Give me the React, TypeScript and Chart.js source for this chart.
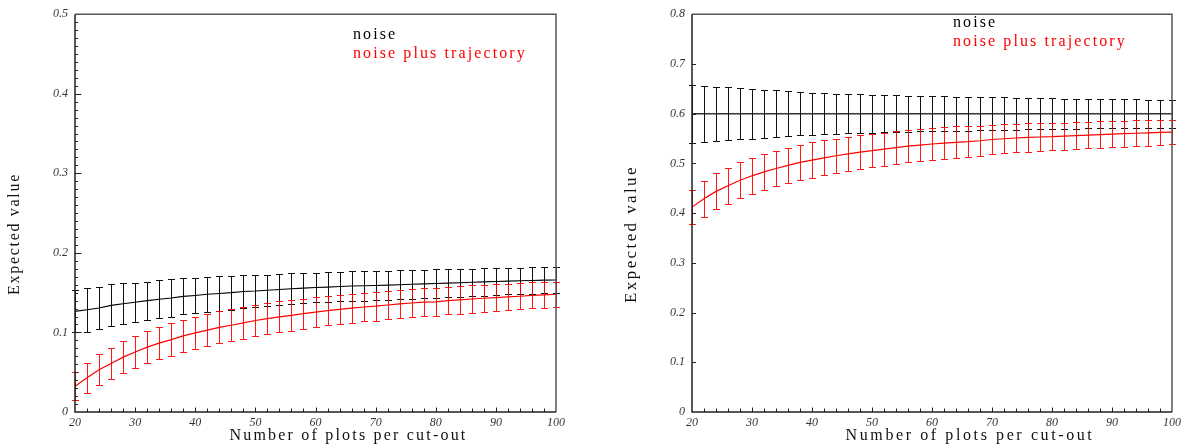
import { useEffect, useRef } from "react";
import { Chart, registerables } from "chart.js";

Chart.register(...registerables);

// ---------------- data ----------------
const plotsPerCutout = [20, 22, 24, 26, 28, 30, 32, 34, 36, 38, 40, 42, 44, 46, 48, 50, 52, 54, 56, 58, 60, 62, 64, 66, 68, 70, 72, 74, 76, 78, 80, 82, 84, 86, 88, 90, 92, 94, 96, 98, 100];

const seriesLabels = ["noise", "noise plus trajectory"];
const seriesColors = ["#000000", "#ff0000"];

// left panel
const leftNoiseMean = [0.1265, 0.1285, 0.1307, 0.134, 0.136, 0.138, 0.140, 0.1417, 0.1433, 0.1453, 0.1465, 0.148, 0.149, 0.150, 0.1515, 0.152, 0.153, 0.154, 0.155, 0.1557, 0.1565, 0.157, 0.1578, 0.1584, 0.1587, 0.159, 0.1595, 0.160, 0.1605, 0.161, 0.1615, 0.162, 0.1625, 0.163, 0.1635, 0.164, 0.1645, 0.165, 0.1653, 0.1657, 0.166];
const leftNoiseErr = [0.0265, 0.0275, 0.0268, 0.0264, 0.0256, 0.0243, 0.0238, 0.0237, 0.0233, 0.0227, 0.0225, 0.022, 0.0219, 0.0214, 0.021, 0.0206, 0.0198, 0.0196, 0.0193, 0.0191, 0.0188, 0.0187, 0.0186, 0.0187, 0.0186, 0.0185, 0.0183, 0.018, 0.0179, 0.0178, 0.0177, 0.0175, 0.0174, 0.0172, 0.0171, 0.017, 0.0168, 0.0166, 0.0164, 0.0162, 0.016];
const leftTrajMean = [0.0325, 0.043, 0.053, 0.061, 0.069, 0.0755, 0.0815, 0.0865, 0.091, 0.0956, 0.0995, 0.103, 0.1064, 0.109, 0.112, 0.115, 0.1173, 0.1196, 0.1215, 0.1236, 0.1255, 0.1275, 0.129, 0.1305, 0.132, 0.133, 0.1345, 0.136, 0.137, 0.138, 0.1385, 0.140, 0.141, 0.142, 0.143, 0.1438, 0.1448, 0.1455, 0.1465, 0.1472, 0.148];
const leftTrajErr = [0.0175, 0.019, 0.0195, 0.020, 0.0205, 0.0205, 0.0205, 0.0205, 0.0205, 0.0205, 0.020, 0.020, 0.020, 0.020, 0.0198, 0.0197, 0.0195, 0.0193, 0.0195, 0.0189, 0.0187, 0.0185, 0.0184, 0.0183, 0.0182, 0.018, 0.018, 0.0178, 0.0177, 0.0176, 0.0175, 0.0174, 0.0172, 0.0171, 0.017, 0.0167, 0.0166, 0.0165, 0.0163, 0.0162, 0.016];

// right panel
const rightNoiseMean = [0.6, 0.6, 0.6, 0.6, 0.6, 0.6, 0.6, 0.6, 0.6, 0.6, 0.6, 0.6, 0.6, 0.6, 0.6, 0.6, 0.6, 0.6, 0.6, 0.6, 0.6, 0.6, 0.6, 0.6, 0.6, 0.6, 0.6, 0.6, 0.6, 0.6, 0.6, 0.6, 0.6, 0.6, 0.6, 0.6, 0.6, 0.6, 0.6, 0.6, 0.6];
const rightNoiseErr = [0.0585, 0.0566, 0.0546, 0.0532, 0.0512, 0.050, 0.048, 0.0466, 0.0446, 0.0432, 0.042, 0.0412, 0.040, 0.0393, 0.0386, 0.038, 0.0373, 0.0366, 0.036, 0.0355, 0.035, 0.0346, 0.0343, 0.034, 0.0335, 0.033, 0.0326, 0.032, 0.0315, 0.031, 0.0306, 0.0302, 0.030, 0.0296, 0.0293, 0.029, 0.0288, 0.0286, 0.0284, 0.0282, 0.028];
const rightTrajMean = [0.412, 0.429, 0.4437, 0.455, 0.466, 0.475, 0.4828, 0.4897, 0.496, 0.502, 0.5067, 0.511, 0.5153, 0.519, 0.5226, 0.5256, 0.5286, 0.5316, 0.5346, 0.5366, 0.539, 0.5406, 0.5423, 0.5436, 0.5455, 0.548, 0.5495, 0.551, 0.5522, 0.553, 0.5536, 0.5548, 0.556, 0.557, 0.558, 0.559, 0.5598, 0.5606, 0.5614, 0.5622, 0.563];
const rightTrajErr = [0.0343, 0.036, 0.036, 0.0366, 0.0363, 0.0366, 0.0363, 0.036, 0.0356, 0.0356, 0.0356, 0.0353, 0.0343, 0.034, 0.0336, 0.0333, 0.033, 0.0326, 0.0323, 0.0323, 0.0326, 0.0323, 0.032, 0.0313, 0.0305, 0.0297, 0.0293, 0.029, 0.0285, 0.028, 0.0273, 0.0272, 0.027, 0.0268, 0.0266, 0.0262, 0.026, 0.0258, 0.0255, 0.0252, 0.025];

// axes
const xMin = 20;
const xMax = 100;
const xStep = 10;
const xMinorStep = 2;
const leftYMax = 0.5;
const rightYMax = 0.8;
const yStep = 0.1;

const xTitle = "Number of plots per cut-out";
const yTitle = "Expected value";

// ---------------- plugin ----------------
const SERIF = "'Liberation Serif', 'Times New Roman', serif";

const decorPlugin = {
  id: "decor",
  afterDatasetsDraw(chart: any) {
    const ctx = chart.ctx;
    const xs = chart.scales.x;
    const ys = chart.scales.y;
    const cap = 3.5;
    chart.data.datasets.forEach((ds: any) => {
      const errs: number[] = ds.errors || [];
      ctx.save();
      ctx.strokeStyle = ds.errorColor || ds.borderColor;
      ctx.lineWidth = 1;
      ds.data.forEach((p: any, i: number) => {
        const px = Math.round(xs.getPixelForValue(p.x)) + 0.5;
        const y1 = Math.round(ys.getPixelForValue(p.y + errs[i])) + 0.5;
        const y2 = Math.round(ys.getPixelForValue(p.y - errs[i])) + 0.5;
        ctx.beginPath();
        ctx.moveTo(px, y1);
        ctx.lineTo(px, y2);
        ctx.moveTo(px - cap, y1);
        ctx.lineTo(px + cap, y1);
        ctx.moveTo(px - cap, y2);
        ctx.lineTo(px + cap, y2);
        ctx.stroke();
      });
      ctx.restore();
    });
  },
  afterDraw(chart: any, _args: any, opts: any) {
    const ctx = chart.ctx;
    const { left, right, top, bottom } = chart.chartArea;
    const xs = chart.scales.x;
    const ys = chart.scales.y;
    ctx.save();
    // frame
    ctx.lineWidth = 1.5;
    ctx.strokeStyle = "#555";
    ctx.beginPath();
    ctx.moveTo(left, top);
    ctx.lineTo(right, top);
    ctx.lineTo(right, bottom);
    ctx.stroke();
    ctx.strokeStyle = "#222";
    ctx.beginPath();
    ctx.moveTo(left, top);
    ctx.lineTo(left, bottom);
    ctx.lineTo(right, bottom);
    ctx.stroke();

    // inward tick marks
    ctx.lineWidth = 1;
    ctx.strokeStyle = "#222";
    ctx.beginPath();
    const nx = Math.round((xs.max - xs.min) / opts.xMinor);
    for (let k = 1; k < nx; k++) {
      const v = xs.min + k * opts.xMinor;
      const px = Math.round(xs.getPixelForValue(v)) + 0.5;
      const len = k % Math.round(opts.xMajor / opts.xMinor) === 0 ? 4.5 : 3.5;
      ctx.moveTo(px, bottom);
      ctx.lineTo(px, bottom - len);
    }
    const ny = Math.round((ys.max - ys.min) / opts.yMinor);
    const ratio = Math.round(opts.yMajor / opts.yMinor);
    for (let k = 1; k < ny; k++) {
      const v = ys.min + k * opts.yMinor;
      const py = Math.round(ys.getPixelForValue(v)) + 0.5;
      const len = ratio > 1 ? (k % ratio === 0 ? 6.5 : 3) : 4;
      ctx.moveTo(left, py);
      ctx.lineTo(left + len, py);
    }
    ctx.stroke();

    // legend
    ctx.font = `16px ${SERIF}`;
    (ctx as any).letterSpacing = "2.1px";
    ctx.textBaseline = "middle";
    ctx.textAlign = "left";
    chart.data.datasets.forEach((ds: any, i: number) => {
      ctx.fillStyle = ds.borderColor;
      ctx.fillText(ds.label, left + opts.legendX, top + opts.legendY + i * 19);
    });

    // axis titles
    ctx.fillStyle = "#111";
    ctx.textAlign = "center";
    ctx.textBaseline = "alphabetic";
    (ctx as any).letterSpacing = opts.xTitleSpacing + "px";
    ctx.fillText(xTitle, (left + right) / 2 + opts.xTitleShift, 440);
    ctx.translate(opts.yTitleX, opts.yTitleY);
    ctx.rotate(-Math.PI / 2);
    ctx.textBaseline = "middle";
    ctx.font = `${opts.yTitleSize}px ${SERIF}`;
    (ctx as any).letterSpacing = opts.yTitleSpacing + "px";
    ctx.fillText(yTitle, 0, 0);
    ctx.restore();
  },
};

function makeConfig(
  noiseMean: number[],
  noiseErr: number[],
  trajMean: number[],
  trajErr: number[],
  yMax: number,
  yAxisWidth: number,
  padRight: number,
  decor: any,
  noiseLineColor: string,
  noiseLineWidth: number
): any {
  return {
    type: "line",
    data: {
      datasets: [
        {
          label: seriesLabels[0],
          data: plotsPerCutout.map((x, i) => ({ x, y: noiseMean[i] })),
          errors: noiseErr,
          borderColor: seriesColors[0],
          errorColor: "#111",
          borderWidth: noiseLineWidth,
          pointRadius: 0,
          fill: false,
          tension: 0,
          segment: { borderColor: () => noiseLineColor },
        },
        {
          label: seriesLabels[1],
          data: plotsPerCutout.map((x, i) => ({ x, y: trajMean[i] })),
          errors: trajErr,
          borderColor: seriesColors[1],
          errorColor: "rgba(255,0,0,0.9)",
          borderWidth: 1.2,
          pointRadius: 0,
          fill: false,
          tension: 0,
        },
      ],
    },
    options: {
      animation: false,
      responsive: false,
      devicePixelRatio: 1,
      layout: { padding: { left: 0, right: padRight, top: 11, bottom: 0 } },
      plugins: {
        legend: { display: false },
        tooltip: { enabled: false },
        decor,
      },
      scales: {
        x: {
          type: "linear",
          min: xMin,
          max: xMax,
          grid: { display: false, drawTicks: false },
          border: { display: false },
          ticks: {
            stepSize: xStep,
            autoSkip: false,
            maxRotation: 0,
            padding: 4,
            color: "#333",
            font: { family: SERIF, size: 12, style: "italic" },
          },
          afterFit: (s: any) => {
            s.height = 36;
          },
        },
        y: {
          type: "linear",
          min: 0,
          max: yMax,
          grid: { display: false, drawTicks: false },
          border: { display: false },
          ticks: {
            stepSize: yStep,
            padding: 7,
            color: "#333",
            font: { family: SERIF, size: 12, style: "italic" },
          },
          afterFit: (s: any) => {
            s.width = yAxisWidth;
          },
        },
      },
    },
    plugins: [decorPlugin],
  };
}

export default function App() {
  const leftRef = useRef<HTMLCanvasElement>(null);
  const rightRef = useRef<HTMLCanvasElement>(null);

  useEffect(() => {
    const c1 = new Chart(
      leftRef.current as HTMLCanvasElement,
      makeConfig(
        leftNoiseMean,
        leftNoiseErr,
        leftTrajMean,
        leftTrajErr,
        leftYMax,
        75,
        36,
        {
          xMinor: xMinorStep,
          xMajor: xStep,
          yMinor: 0.01,
          yMajor: yStep,
          legendX: 278,
          legendY: 21,
          xTitleShift: 33,
          xTitleSpacing: 2.2,
          yTitleX: 15,
          yTitleY: 234,
          yTitleSize: 16,
          yTitleSpacing: 1.7,
        },
        "#000",
        1.1
      )
    );
    const c2 = new Chart(
      rightRef.current as HTMLCanvasElement,
      makeConfig(
        rightNoiseMean,
        rightNoiseErr,
        rightTrajMean,
        rightTrajErr,
        rightYMax,
        100,
        12,
        {
          xMinor: xMinorStep,
          xMajor: xStep,
          yMinor: yStep,
          yMajor: yStep,
          legendX: 261,
          legendY: 9,
          xTitleShift: 38,
          xTitleSpacing: 2.6,
          yTitleX: 40,
          yTitleY: 234,
          yTitleSize: 17,
          yTitleSpacing: 2.4,
        },
        "#333",
        1.5
      )
    );
    return () => {
      c1.destroy();
      c2.destroy();
    };
  }, []);

  return (
    <div
      style={{
        position: "fixed",
        left: 0,
        top: 0,
        width: 1185,
        height: 448,
        background: "#fff",
      }}
    >
      <canvas
        ref={leftRef}
        width={592}
        height={448}
        style={{ position: "absolute", left: 0, top: 0, width: 592, height: 448 }}
      />
      <canvas
        ref={rightRef}
        width={593}
        height={448}
        style={{ position: "absolute", left: 592, top: 0, width: 593, height: 448 }}
      />
    </div>
  );
}
